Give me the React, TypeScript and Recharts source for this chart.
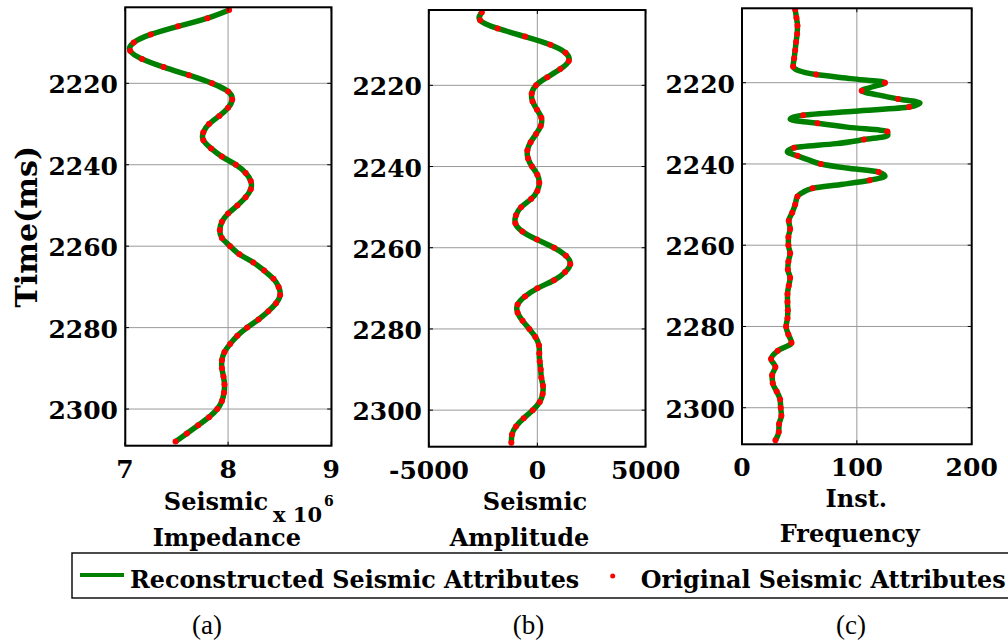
import React from 'react';
import { LineChart, Line, XAxis, YAxis, CartesianGrid } from 'recharts';

// ---- data ----
const times = [
  2202, 2204, 2206, 2208, 2210, 2212, 2214, 2216, 2218, 2220,
  2222, 2224, 2226, 2228, 2230, 2232, 2234, 2236, 2238, 2240,
  2242, 2244, 2246, 2248, 2250, 2252, 2254, 2256, 2258, 2260,
  2262, 2264, 2266, 2268, 2270, 2272, 2274, 2276, 2278, 2280,
  2282, 2284, 2286, 2288, 2290, 2292, 2294, 2296, 2298, 2300,
  2302, 2304, 2306, 2308,
];

// Seismic impedance, in units of 10^6
const impedanceMillions = [
  8.01, 7.8, 7.515, 7.25, 7.085, 7.05, 7.165, 7.375, 7.62, 7.845,
  8.0, 8.04, 8.0, 7.915, 7.815, 7.76, 7.76, 7.835, 7.94, 8.075,
  8.17, 8.22, 8.22, 8.17, 8.09, 8.0, 7.94, 7.92, 7.94, 8.02,
  8.11, 8.245, 8.35, 8.44, 8.49, 8.505, 8.465, 8.39, 8.295, 8.185,
  8.09, 8.02, 7.965, 7.94, 7.94, 7.955, 7.965, 7.96, 7.94, 7.895,
  7.815, 7.71, 7.6, 7.49,
];

const amplitude = [
  -2560, -2640, -1830, -570, 600, 1300, 1450, 1060, 460, -60,
  -260, -220, -15, 185, 155, -60, -310, -460, -430, -245,
  0, 90, 0, -290, -750, -985, -1015, -690, -15, 775,
  1320, 1520, 1280, 770, 0, -570, -910, -910, -680, -370,
  -90, 75, 90, 110, 155, 185, 260, 245, 110, -215,
  -630, -985, -1170, -1200,
];

const frequency = [
  46.3, 47.4, 48.3, 48.0, 47.1, 46.3, 45.4, 44.5, 64.6, 124.5,
  104.2, 135.9, 145.5, 53.3, 65.8, 126.6, 106.2, 45.4, 48.3, 68.6,
  119, 111.2, 61.4, 48.3, 46.3, 43.7, 40.7, 41.9, 40.4, 40.4,
  41.9, 40.4, 39.9, 41.9, 40.7, 39.6, 39.6, 39.9, 39.6, 38.4,
  40.4, 43.1, 31.1, 25.3, 29.1, 26.2, 26.8, 30.2, 33.2, 33.7,
  34.3, 32.3, 32.0, 29.1,
];

// extra samples of the reconstructed frequency curve (read between dots)
const freqLineExtraTimes = [2217, 2219, 2221, 2223, 2225, 2227, 2229, 2231, 2233, 2235, 2237, 2239, 2241, 2243, 2245, 2247];
const freqLineExtraValues = [49, 95, 114, 118, 155, 98, 42, 93, 127, 82, 39.5, 58, 91, 124.5, 88, 53];

const timeTicks = [2220, 2240, 2260, 2280, 2300];
const impedanceTicks = [7, 8, 9];
const amplitudeTicks = [-5000, 0, 5000];
const frequencyTicks = [0, 100, 200];
const legendLabels = ['Reconstructed Seismic Attributes', 'Original Seismic Attributes'];
const subLabels = ['(a)', '(b)', '(c)'];

// ---- tables ----
const impedanceRows = times.map((t, i) => ({ t, v: impedanceMillions[i] }));
const amplitudeRows = times.map((t, i) => ({ t, v: amplitude[i] }));
const frequencyRows = times.map((t, i) => ({ t, v: frequency[i] }));
const frequencyLineRows = [
  ...frequencyRows,
  ...freqLineExtraTimes.map((t, i) => ({ t, v: freqLineExtraValues[i] })),
].sort((a, b) => a.t - b.t);

const FONT = '"DejaVu Serif", serif';
const GREEN = '#008000';
const RED = '#ff0000';
const YW = 110;
const XH = 44;
const RM = 40;

type Frame = { left: number; right: number; top: number; bottom: number };

function Panel(props: {
  frame: Frame;
  xDomain: number[];
  xTicks: number[];
  tDomain: number[];
  dotRows: { t: number; v: number }[];
  lineRows: { t: number; v: number }[];
  lineType: any;
}) {
  const { frame, xDomain, xTicks, tDomain, dotRows, lineRows, lineType } = props;
  const pw = frame.right - frame.left;
  const width = YW + pw + RM;
  const height = frame.bottom + XH;

  const XTick = (p: any) => {
    const { x, payload } = p;
    return (
      <g>
        <line x1={x} x2={x} y1={frame.bottom} y2={frame.bottom - 4} stroke="#000" strokeWidth={1} />
        <line x1={x} x2={x} y1={frame.top} y2={frame.top + 4} stroke="#000" strokeWidth={1} />
        <text x={x} y={frame.bottom + 32} textAnchor="middle" fontFamily={FONT} fontWeight="bold" fontSize={25} fill="#000">
          {String(payload.value)}
        </text>
      </g>
    );
  };
  const YTick = (p: any) => {
    const { y, payload } = p;
    const x0 = YW;
    return (
      <g>
        <line x1={x0} x2={x0 + 4} y1={y} y2={y} stroke="#000" strokeWidth={1} />
        <line x1={x0 + pw} x2={x0 + pw - 4} y1={y} y2={y} stroke="#000" strokeWidth={1} />
        <text x={x0 - 7} y={y + 10} textAnchor="end" fontFamily={FONT} fontWeight="bold" fontSize={25} fill="#000">
          {String(payload.value)}
        </text>
      </g>
    );
  };

  return (
    <div style={{ position: 'absolute', left: frame.left - YW, top: 0, width, height }}>
      <LineChart
        width={width}
        height={height}
        layout="vertical"
        data={dotRows}
        margin={{ top: frame.top, right: RM, bottom: 0, left: 0 }}
      >
        <CartesianGrid stroke="#9a9a9a" strokeWidth={1} />
        <XAxis
          type="number"
          dataKey="v"
          domain={xDomain}
          ticks={xTicks}
          interval={0}
          allowDataOverflow
          height={XH}
          tickSize={0}
          tickMargin={0}
          axisLine={false}
          tickLine={false}
          tick={XTick}
        />
        <YAxis
          type="number"
          dataKey="t"
          domain={tDomain}
          ticks={timeTicks}
          interval={0}
          allowDataOverflow
          width={YW}
          tickSize={0}
          tickMargin={0}
          axisLine={false}
          tickLine={false}
          tick={YTick}
        />
        <Line
          data={lineRows}
          dataKey="v"
          type={lineType}
          stroke={GREEN}
          strokeWidth={5.5}
          dot={false}
          activeDot={false}
          isAnimationActive={false}
        />
        <Line
          dataKey="v"
          stroke="none"
          dot={{ r: 3, fill: RED, stroke: 'none' }}
          activeDot={false}
          isAnimationActive={false}
        />
      </LineChart>
    </div>
  );
}

const frames: Frame[] = [
  { left: 125.3, right: 331.5, top: 7.3, bottom: 445.7 },
  { left: 428.8, right: 645.5, top: 10, bottom: 446.7 },
  { left: 742, right: 971.7, top: 8.3, bottom: 444.3 },
];

export default function App() {
  const boldText = { fontFamily: FONT, fontWeight: 'bold' as const, fill: '#000' };
  return (
    <div style={{ position: 'absolute', left: 0, top: 0, width: 1008, height: 643, background: '#fff', overflow: 'hidden' }}>
      <Panel frame={frames[0]} xDomain={[7, 9]} xTicks={impedanceTicks} tDomain={[2201.33, 2309.0]}
        dotRows={impedanceRows} lineRows={impedanceRows} lineType="natural" />
      <Panel frame={frames[1]} xDomain={[-5000, 5000]} xTicks={amplitudeTicks} tDomain={[2201.45, 2309.0]}
        dotRows={amplitudeRows} lineRows={amplitudeRows} lineType="natural" />
      <Panel frame={frames[2]} xDomain={[0, 200]} xTicks={frequencyTicks} tDomain={[2201.69, 2309.0]}
        dotRows={frequencyRows} lineRows={frequencyLineRows} lineType="monotone" />

      <svg width={1008} height={643} style={{ position: 'absolute', left: 0, top: 0, pointerEvents: 'none' }}>
        {frames.map((f, i) => (
          <rect key={i} x={f.left} y={f.top} width={f.right - f.left} height={f.bottom - f.top}
            fill="none" stroke="#000" strokeWidth={2} />
        ))}

        <text {...boldText} fontSize={30} textAnchor="middle" transform="translate(37,226.7) rotate(-90)">Time(ms)</text>

        <text {...boldText} fontSize={24} textAnchor="middle" x={216} y={510}>Seismic</text>
        <text {...boldText} fontSize={24} textAnchor="middle" x={226.8} y={546}>Impedance</text>
        <text {...boldText} fontSize={21} x={273} y={521.7}>x 10</text>
        <text {...boldText} fontSize={14} x={324} y={506}>6</text>

        <text {...boldText} fontSize={24} textAnchor="middle" x={535} y={510}>Seismic</text>
        <text {...boldText} fontSize={24} textAnchor="middle" x={519.5} y={546}>Amplitude</text>

        <text {...boldText} fontSize={24} textAnchor="middle" x={856.3} y={506.7}>Inst.</text>
        <text {...boldText} fontSize={24} textAnchor="middle" x={849.7} y={541.7}>Frequency</text>

        <rect x={72} y={553} width={945} height={45} fill="#fff" stroke="#000" strokeWidth={1.4} />
        <line x1={80} x2={124} y1={575} y2={575} stroke={GREEN} strokeWidth={4} />
        <text {...boldText} fontSize={23.8} x={130} y={588}>{legendLabels[0]}</text>
        <circle cx={612.7} cy={576} r={2.5} fill={RED} />
        <text {...boldText} fontSize={23.8} x={640.7} y={588}>{legendLabels[1]}</text>

        {subLabels.map((s, i) => (
          <text key={s} fontFamily='"Liberation Serif", serif' fontSize={27} fill="#000" textAnchor="middle"
            x={[207, 528.5, 851][i]} y={634}>{s}</text>
        ))}
      </svg>
    </div>
  );
}
